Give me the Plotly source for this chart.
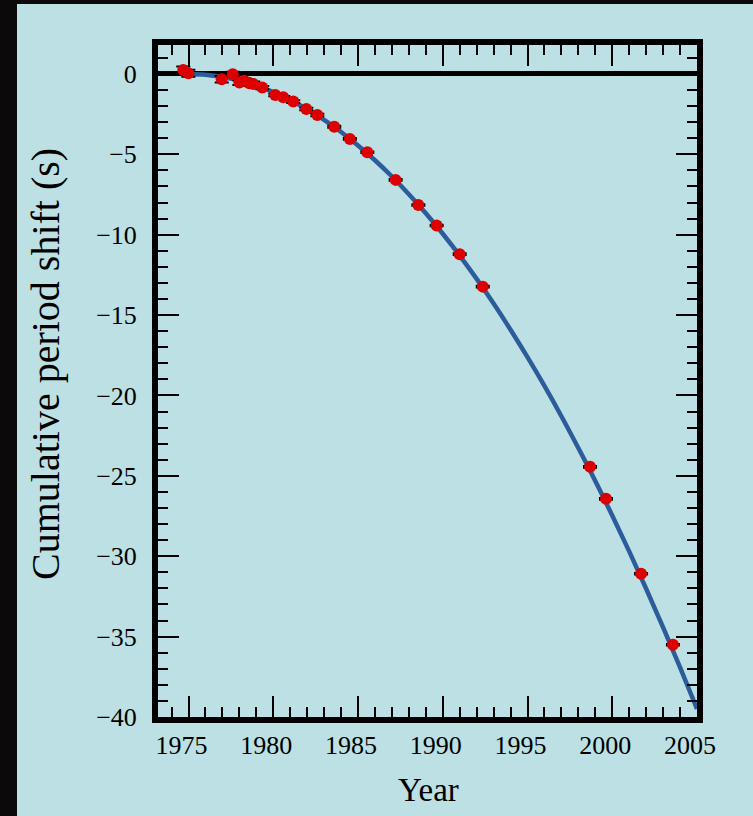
import plotly.graph_objects as go

# Observed cumulative period shift (s) by year
obs_years = [1974.69, 1974.99, 1976.96, 1977.61, 1978.00, 1978.29, 1978.59, 1978.82,
             1979.35, 1980.12, 1980.59, 1981.18, 1981.95, 1982.60, 1983.60, 1984.52,
             1985.55, 1987.22, 1988.56, 1989.64, 1991.00, 1992.36, 1998.69, 1999.63,
             2001.70, 2003.58]
obs_shift = [0.25, 0.04, -0.33, -0.02, -0.54, -0.42, -0.58, -0.62,
             -0.85, -1.31, -1.45, -1.72, -2.18, -2.55, -3.28, -4.04,
             -4.87, -6.59, -8.15, -9.43, -11.21, -13.23, -24.44, -26.43,
             -31.09, -35.51]
obs_err = [0.22, 0.22, 0.2, 0.15, 0.15, 0.15, 0.15, 0.15,
           0.1, 0.08, 0.08, 0.08, 0.08, 0.08, 0.06, 0.05,
           0.05, 0.05, 0.05, 0.05, 0.05, 0.05, 0.05, 0.05,
           0.05, 0.05]

# Predicted curve
curve_years = [1975, 1976, 1977, 1978, 1979, 1980, 1981, 1982, 1983, 1984, 1985,
               1986, 1987, 1988, 1989, 1990, 1991, 1992, 1993, 1994, 1995,
               1996, 1997, 1998, 1999, 2000, 2001, 2002, 2003, 2004, 2005]
curve_shift = [0.0, -0.05, -0.19, -0.42, -0.73, -1.13, -1.62, -2.20, -2.86, -3.61, -4.45,
               -5.37, -6.38, -7.48, -8.67, -9.94, -11.30, -12.75, -14.28, -15.91, -17.62,
               -19.41, -21.29, -23.27, -25.32, -27.47, -29.70, -32.02, -34.43, -36.92, -39.50]

x_ticks = [1975, 1980, 1985, 1990, 1995, 2000, 2005]
y_ticks = [0, -5, -10, -15, -20, -25, -30, -35, -40]
y_tick_text = ["0", "\u22125", "\u221210", "\u221215", "\u221220", "\u221225", "\u221230", "\u221235", "\u221240"]

FONT = "Liberation Serif"
PANEL = "#bce0e3"

fig = go.Figure()
fig.add_trace(go.Scatter(
    x=curve_years, y=curve_shift, mode="lines",
    line=dict(color="#2d5c9b", width=4.5, shape="spline"),
    hoverinfo="skip", showlegend=False))
fig.add_trace(go.Scatter(
    x=obs_years, y=obs_shift, mode="markers",
    marker=dict(color="#dc0000", size=12, line=dict(width=0)),
    error_y=dict(type="data", array=obs_err, visible=True, color="black", thickness=2, width=7),
    showlegend=False, cliponaxis=False))

axis_common = dict(
    showgrid=False, showline=True, linecolor="black", linewidth=6, mirror="ticks",
    ticks="inside", ticklen=21, tickwidth=2, tickcolor="black",
    tickfont=dict(family=FONT, size=26, color="black"),
)

fig.update_xaxes(
    range=[1973.2, 2005.0], tickmode="array", tickvals=x_ticks,
    zeroline=False, ticklabelshift=-7, ticklabelstandoff=0,
    minor=dict(dtick=1, tick0=1975, ticks="inside", ticklen=10, tickwidth=2, tickcolor="black", showgrid=False),
    **axis_common)
fig.update_yaxes(
    range=[-40, 1.8], tickmode="array", tickvals=y_ticks, ticktext=y_tick_text,
    zeroline=True, zerolinecolor="black", zerolinewidth=5, ticklabelstandoff=10,
    minor=dict(dtick=1, tick0=0, ticks="inside", ticklen=10, tickwidth=2, tickcolor="black", showgrid=False),
    **axis_common)

fig.update_layout(
    width=753, height=816,
    margin=dict(l=158, r=56, t=45, b=99, autoexpand=False),
    paper_bgcolor="#0b0909", plot_bgcolor=PANEL,
    shapes=[dict(type="rect", xref="paper", yref="paper", layer="below",
                 x0=-(158 - 17) / 539, x1=1 + 56 / 539, y0=-99 / 672, y1=1 + 41 / 672,
                 fillcolor=PANEL, line=dict(width=0))],
    annotations=[
        dict(text="Year", xref="paper", yref="paper", x=(428 - 158) / 539, y=-(790 - 717) / 672,
             xanchor="center", yanchor="middle", showarrow=False,
             font=dict(family=FONT, size=33, color="black")),
        dict(text="Cumulative period shift (s)", xref="paper", yref="paper",
             x=(45 - 158) / 539, y=(717 - 364) / 672, textangle=-90,
             xanchor="center", yanchor="middle", showarrow=False,
             font=dict(family=FONT, size=40, color="black")),
    ],
)

fig.write_html("out.html", config={"displayModeBar": False},
               post_script="document.body.style.margin='0';document.body.style.overflow='hidden';")
